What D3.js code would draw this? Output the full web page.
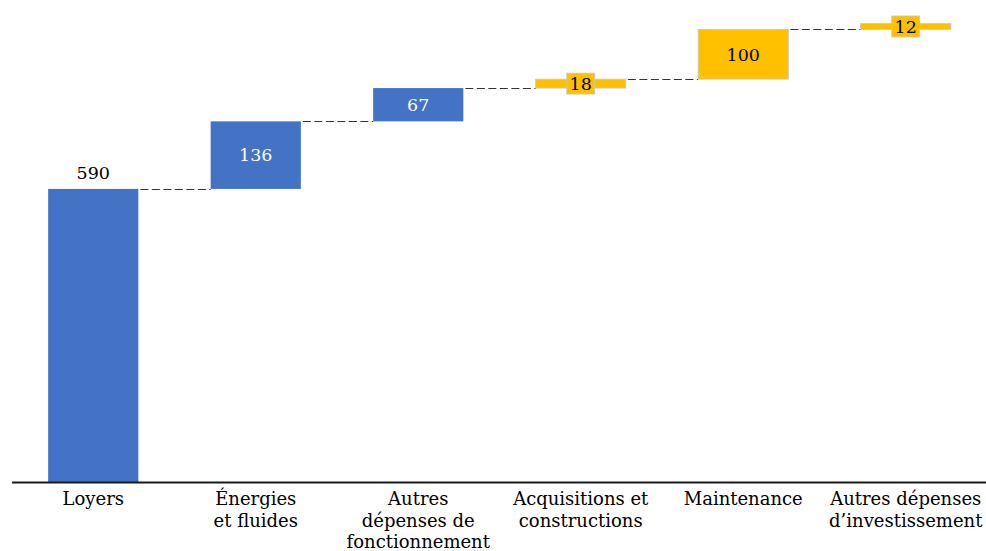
<!DOCTYPE html>
<html>
<head>
<meta charset="utf-8">
<script src="https://cdn.jsdelivr.net/npm/d3@7"></script>
<style>
body { margin: 0; background: #fff; }
text { font-family: "DejaVu Serif", "Liberation Serif", serif; }
</style>
</head>
<body>
<div id="chart"></div>
<script>
// data
var categories = [
    ["Loyers"],
    ["Énergies", "et fluides"],
    ["Autres", "dépenses de", "fonctionnement"],
    ["Acquisitions et", "constructions"],
    ["Maintenance"],
    ["Autres dépenses", "d\u2019investissement"]
];
var values = [590, 136, 67, 18, 100, 12];
var kinds = ["fonct", "fonct", "fonct", "invest", "invest", "invest"];

var width = 986, height = 551;
var baseY = 482;

var colors = { fonct: "#4472C4", invest: "#FFC000" };
var labelColors = { fonct: "#ffffff", invest: "#000000" };

// cumulative start / end
var rows = [];
var run = 0;
for (var i = 0; i < values.length; i++) {
    rows.push({ i: i, start: run, end: run + values[i], v: values[i], kind: kinds[i], cat: categories[i] });
    run += values[i];
}

var x = d3.scaleBand().domain(d3.range(values.length)).range([12, 987]).paddingInner(0.445).paddingOuter(0.2225);
var y = d3.scaleLinear().domain([0, 923]).range([baseY, 23.5]);

var svg = d3.select("#chart").append("svg")
    .attr("width", width).attr("height", height);

// connectors
svg.append("g").selectAll("line")
    .data(rows.slice(0, rows.length - 1))
    .enter().append("line")
    .attr("x1", function(d) { return x(d.i) + x.bandwidth() + 2; })
    .attr("x2", function(d) { return x(d.i + 1); })
    .attr("y1", function(d) { return Math.round(y(d.end)) + 0.5; })
    .attr("y2", function(d) { return Math.round(y(d.end)) + 0.5; })
    .attr("stroke", "#333333")
    .attr("stroke-width", 1.1)
    .attr("stroke-dasharray", "8,3.5");

// bars
svg.append("g").selectAll("rect")
    .data(rows)
    .enter().append("rect")
    .attr("x", function(d) { return x(d.i); })
    .attr("width", x.bandwidth())
    .attr("y", function(d) { return y(d.end); })
    .attr("height", function(d) { return y(d.start) - y(d.end); })
    .attr("fill", function(d) { return colors[d.kind]; })
    .attr("stroke", function(d) { return d.kind == "invest" ? "#c9c9c9" : "none"; })
    .attr("stroke-width", 0.8);

// data labels
var labels = svg.append("g").selectAll("g")
    .data(rows)
    .enter().append("g")
    .attr("transform", function(d) {
        var cx = x(d.i) + x.bandwidth() / 2;
        var cy;
        if (d.i == 0) cy = y(d.end) - 16;
        else cy = (y(d.start) + y(d.end)) / 2;
        return "translate(" + cx + "," + cy + ")";
    });

labels.filter(function(d) { return d.i > 0 && y(d.start) - y(d.end) < 20; })
    .append("rect")
    .attr("x", -14).attr("y", -10.5)
    .attr("width", 28).attr("height", 21)
    .attr("fill", function(d) { return colors[d.kind]; })
    .attr("stroke", "#c9c9c9")
    .attr("stroke-width", 0.8);

labels.append("text")
    .attr("text-anchor", "middle")
    .attr("dy", "0.36em")
    .attr("font-size", 17.5)
    .attr("fill", function(d) { return d.i == 0 ? "#000" : labelColors[d.kind]; })
    .text(function(d) { return d.v; });

// axis line
svg.append("line")
    .attr("x1", 12).attr("x2", 986)
    .attr("y1", baseY + 0.5).attr("y2", baseY + 0.5)
    .attr("stroke", "#1a1a1a").attr("stroke-width", 1.8);

// category labels
var cats = svg.append("g").selectAll("text")
    .data(rows)
    .enter().append("text")
    .attr("text-anchor", "middle")
    .attr("font-size", 18)
    .attr("fill", "#000")
    .attr("x", function(d) { return x(d.i) + x.bandwidth() / 2; })
    .attr("y", 505);
cats.selectAll("tspan")
    .data(function(d) { return d.cat.map(function(t) { return { t: t, cx: x(d.i) + x.bandwidth() / 2 }; }); })
    .enter().append("tspan")
    .attr("x", function(d) { return d.cx; })
    .attr("dy", function(d, j) { return j == 0 ? 0 : 21.5; })
    .text(function(d) { return d.t; });
</script>
</body>
</html>
